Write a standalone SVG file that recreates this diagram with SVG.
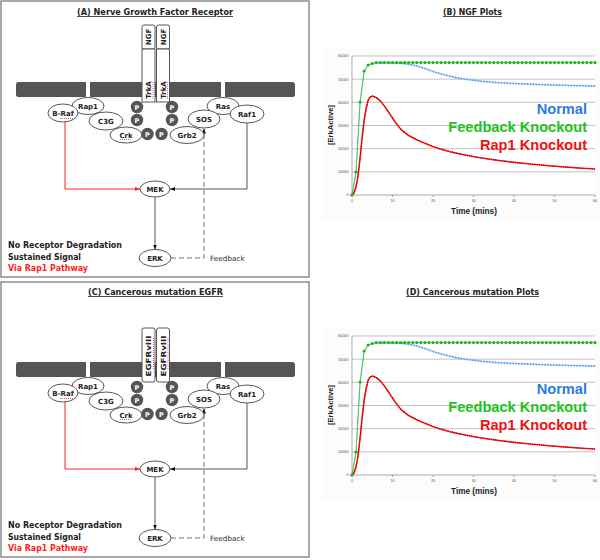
<svg xmlns="http://www.w3.org/2000/svg" width="600" height="560" viewBox="0 0 600 560">
<style>
.box{fill:none;stroke:#555;stroke-width:1}
.title{font-family:"DejaVu Sans",sans-serif;font-weight:bold;font-size:8px;fill:#222;text-anchor:middle;text-decoration:underline}
.mem{fill:#555}
.gap{fill:#fff}
.rec{fill:#fff;stroke:#444;stroke-width:0.9}
.rtxt{font-family:"DejaVu Sans",sans-serif;font-weight:bold;font-size:7px;fill:#222;text-anchor:middle}
.n ellipse{fill:#fff;stroke:#444;stroke-width:0.9}
.n text{font-family:"DejaVu Sans",sans-serif;font-weight:bold;font-size:7px;fill:#222;text-anchor:middle}
.p circle{fill:#555}
.p text{font-family:"DejaVu Sans",sans-serif;font-weight:bold;font-size:6.5px;fill:#fff;text-anchor:middle}
.sq{fill:none;stroke:#e33;stroke-width:0.8;stroke-dasharray:1 1}
.note{font-family:"DejaVu Sans",sans-serif;font-weight:bold;font-size:8px;fill:#222}
.fb{font-family:"DejaVu Sans",sans-serif;font-size:7.3px;fill:#333}
.blk{fill:none;stroke:#555;stroke-width:1}
.red{fill:none;stroke:#f22;stroke-width:1}
.dash{fill:none;stroke:#777;stroke-width:1;stroke-dasharray:5 3}
.grid{stroke:#9a9a9a;stroke-width:0.6}
.axis{stroke:#888;stroke-width:0.7}
.tick{font-family:"Liberation Sans",Arial,sans-serif;font-size:3.8px;fill:#555}
.axl{font-family:"Liberation Sans",Arial,sans-serif;font-weight:bold;fill:#222}
.leg{font-family:"Liberation Sans",Arial,sans-serif;font-weight:bold;font-size:14.6px;text-anchor:end}
</style>
<defs>
<marker id="ah" viewBox="0 0 10 10" refX="10" refY="5" markerWidth="5" markerHeight="5" orient="auto" markerUnits="userSpaceOnUse"><path d="M0,1 L10,5 L0,9 z" fill="#111"/></marker>
<marker id="ahr" viewBox="0 0 10 10" refX="10" refY="5" markerWidth="5" markerHeight="5" orient="auto" markerUnits="userSpaceOnUse"><path d="M0,1 L10,5 L0,9 z" fill="#f22"/></marker>
</defs>
<rect width="600" height="560" fill="#fff"/>

<!-- ================= Panel A ================= -->
<g id="panelA">
<rect class="box" x="1" y="1" width="308" height="276"/>
<text class="title" x="155" y="15" textLength="156" lengthAdjust="spacingAndGlyphs">(A) Nerve Growth Factor Receptor</text>
<rect class="mem" x="16" y="82" width="279" height="15" rx="2.5"/>
<rect class="gap" x="86" y="82" width="4" height="15"/>
<rect class="gap" x="221" y="82" width="4" height="15"/>
<g id="a-receptor">
<rect class="rec" x="142" y="25" width="13" height="24" rx="2"/>
<rect class="rec" x="142" y="49" width="13" height="53"/>
<rect class="rec" x="156.5" y="25" width="13" height="24" rx="2"/>
<rect class="rec" x="156.5" y="49" width="13" height="53"/>
<text class="rtxt" transform="translate(151,37) rotate(-90)">NGF</text>
<text class="rtxt" transform="translate(165.5,37) rotate(-90)">NGF</text>
<text class="rtxt" transform="translate(151,90) rotate(-90)">TrkA</text>
<text class="rtxt" transform="translate(165.5,90) rotate(-90)">TrkA</text>
<path class="sq" d="M153,82 V100 M167.5,82 V100"/>
</g>
<g id="a-connectors">
<path class="red" d="M65,122 V189 H140" marker-end="url(#ahr)"/>
<path class="blk" d="M247,123 V189 H170" marker-end="url(#ah)"/>
<path class="blk" d="M155,197 V249.5" marker-end="url(#ah)"/>
<path class="dash" d="M171,258 H204 V128.5" marker-end="url(#ah)"/>
</g>
<g id="a-rap1" class="n"><ellipse cx="88" cy="106" rx="16" ry="8.5"/><text x="88" y="108.5">Rap1</text></g>
<g id="a-braf" class="n"><ellipse cx="63" cy="113" rx="15" ry="9"/><text x="63" y="115.5">B-Raf</text><path class="sq" d="M60,118.5 H73"/></g>
<g id="a-c3g" class="n"><ellipse cx="106" cy="121" rx="17" ry="9"/><text x="106" y="123.5">C3G</text></g>
<g id="a-crk" class="n"><ellipse cx="126" cy="135" rx="16" ry="8"/><text x="126" y="137.5">Crk</text><path class="sq" d="M120,139.5 H132"/></g>
<g id="a-ras" class="n"><ellipse cx="223" cy="106" rx="16" ry="8.5"/><text x="223" y="108.5">Ras</text></g>
<g id="a-raf1" class="n"><ellipse cx="247" cy="114" rx="17" ry="9"/><text x="247" y="116.5">Raf1</text></g>
<g id="a-sos" class="n"><ellipse cx="204" cy="119" rx="16" ry="9"/><text x="204" y="121.5">SOS</text></g>
<g id="a-grb2" class="n"><ellipse cx="187" cy="135" rx="17" ry="8.5"/><text x="187" y="137.5">Grb2</text></g>
<g id="a-p" class="p">
<circle cx="137" cy="107" r="6.2"/><text x="137" y="109.5">P</text>
<circle cx="137" cy="120" r="6.2"/><text x="137" y="122.5">P</text>
<circle cx="172" cy="107" r="6.2"/><text x="172" y="109.5">P</text>
<circle cx="172" cy="120" r="6.2"/><text x="172" y="122.5">P</text>
<circle cx="147.5" cy="134" r="6.2"/><text x="147.5" y="136.5">P</text>
<circle cx="161.5" cy="134" r="6.2"/><text x="161.5" y="136.5">P</text>
</g>
<g id="a-mek" class="n"><ellipse cx="155" cy="189" rx="15" ry="8"/><text x="155" y="191.5">MEK</text></g>
<g id="a-erk" class="n"><ellipse cx="155" cy="258" rx="16" ry="8.5"/><text x="155" y="260.5">ERK</text></g>
<text class="fb" x="210" y="261">Feedback</text>
<text class="note" x="8" y="248" textLength="114" lengthAdjust="spacingAndGlyphs">No Receptor Degradation</text>
<text class="note" x="8" y="259.5" textLength="73" lengthAdjust="spacingAndGlyphs">Sustained Signal</text>
<text class="note" x="8" y="271" textLength="80" lengthAdjust="spacingAndGlyphs" style="fill:#f22">Via Rap1 Pathway</text>
</g>

<!-- ================= Panel C ================= -->
<g id="panelC">
<rect class="box" x="1" y="282" width="308" height="275"/>
<text class="title" x="155.5" y="295" textLength="135" lengthAdjust="spacingAndGlyphs">(C) Cancerous mutation EGFR</text>
<rect class="mem" x="16" y="362" width="279" height="15" rx="2.5"/>
<rect class="gap" x="86" y="362" width="4" height="15"/>
<rect class="gap" x="221" y="362" width="4" height="15"/>
<g id="c-receptor">
<rect class="rec" x="142" y="328" width="13" height="54" rx="2"/>
<rect class="rec" x="156.5" y="328" width="13" height="54" rx="2"/>
<text class="rtxt" transform="translate(151.3,356) rotate(-90)" textLength="41" lengthAdjust="spacingAndGlyphs">EGFRvIII</text>
<text class="rtxt" transform="translate(165.8,356) rotate(-90)" textLength="41" lengthAdjust="spacingAndGlyphs">EGFRvIII</text>
<path class="sq" d="M153.5,338 V370 M168,338 V370"/>
</g>
<g id="c-connectors">
<path class="red" d="M65,402 V469 H140" marker-end="url(#ahr)"/>
<path class="blk" d="M247,403 V469 H170" marker-end="url(#ah)"/>
<path class="blk" d="M155,477 V529.5" marker-end="url(#ah)"/>
<path class="dash" d="M171,538 H204 V408.5" marker-end="url(#ah)"/>
</g>
<g id="c-rap1" class="n"><ellipse cx="88" cy="386" rx="16" ry="8.5"/><text x="88" y="388.5">Rap1</text></g>
<g id="c-braf" class="n"><ellipse cx="63" cy="393" rx="15" ry="9"/><text x="63" y="395.5">B-Raf</text><path class="sq" d="M60,398.5 H73"/></g>
<g id="c-c3g" class="n"><ellipse cx="106" cy="401" rx="17" ry="9"/><text x="106" y="403.5">C3G</text></g>
<g id="c-crk" class="n"><ellipse cx="126" cy="415" rx="16" ry="8"/><text x="126" y="417.5">Crk</text><path class="sq" d="M120,419.5 H132"/></g>
<g id="c-ras" class="n"><ellipse cx="223" cy="386" rx="16" ry="8.5"/><text x="223" y="388.5">Ras</text></g>
<g id="c-raf1" class="n"><ellipse cx="247" cy="394" rx="17" ry="9"/><text x="247" y="396.5">Raf1</text></g>
<g id="c-sos" class="n"><ellipse cx="204" cy="399" rx="16" ry="9"/><text x="204" y="401.5">SOS</text></g>
<g id="c-grb2" class="n"><ellipse cx="187" cy="415" rx="17" ry="8.5"/><text x="187" y="417.5">Grb2</text></g>
<g id="c-p" class="p">
<circle cx="137" cy="387" r="6.2"/><text x="137" y="389.5">P</text>
<circle cx="137" cy="400" r="6.2"/><text x="137" y="402.5">P</text>
<circle cx="172" cy="387" r="6.2"/><text x="172" y="389.5">P</text>
<circle cx="172" cy="400" r="6.2"/><text x="172" y="402.5">P</text>
<circle cx="147.5" cy="414" r="6.2"/><text x="147.5" y="416.5">P</text>
<circle cx="161.5" cy="414" r="6.2"/><text x="161.5" y="416.5">P</text>
</g>
<g id="c-mek" class="n"><ellipse cx="155" cy="469" rx="15" ry="8"/><text x="155" y="471.5">MEK</text></g>
<g id="c-erk" class="n"><ellipse cx="155" cy="538" rx="16" ry="8.5"/><text x="155" y="540.5">ERK</text></g>
<text class="fb" x="210" y="541">Feedback</text>
<text class="note" x="8" y="528" textLength="114" lengthAdjust="spacingAndGlyphs">No Receptor Degradation</text>
<text class="note" x="8" y="539.5" textLength="73" lengthAdjust="spacingAndGlyphs">Sustained Signal</text>
<text class="note" x="8" y="551" textLength="80" lengthAdjust="spacingAndGlyphs" style="fill:#f22">Via Rap1 Pathway</text>
</g>

<!-- ================= Chart titles ================= -->
<text class="title" x="472.5" y="15" textLength="59" lengthAdjust="spacingAndGlyphs">(B) NGF Plots</text>
<text class="title" x="472.5" y="295" textLength="133" lengthAdjust="spacingAndGlyphs">(D) Cancerous mutation Plots</text>

<!-- ================= Chart B ================= -->
<g id="chartB">
<rect x="322" y="48" width="278" height="172" fill="#fcfcfc"/>
<rect x="352" y="56" width="243" height="139" fill="#fff"/>
<g class="grid">
<line x1="352" y1="56" x2="595" y2="56"/><line x1="352" y1="79.2" x2="595" y2="79.2"/><line x1="352" y1="102.3" x2="595" y2="102.3"/><line x1="352" y1="125.5" x2="595" y2="125.5"/><line x1="352" y1="148.7" x2="595" y2="148.7"/><line x1="352" y1="171.8" x2="595" y2="171.8"/>
</g>
<g class="axis">
<line x1="352" y1="56" x2="352" y2="195"/><line x1="350" y1="195" x2="595" y2="195"/>
<path d="M392.5,195v2M433,195v2M473.5,195v2M514,195v2M554.5,195v2M595,195v2M352,195v2" fill="none"/>
</g>
<g class="tick" text-anchor="end">
<text x="348.5" y="57.3">60000</text><text x="348.5" y="80.5">50000</text><text x="348.5" y="103.6">40000</text><text x="348.5" y="126.8">30000</text><text x="348.5" y="150">20000</text><text x="348.5" y="173.1">10000</text><text x="348.5" y="196.3">0</text>
</g>
<g class="tick" text-anchor="middle">
<text x="352" y="201.5">0</text><text x="392.5" y="201.5">10</text><text x="433" y="201.5">20</text><text x="473.5" y="201.5">30</text><text x="514" y="201.5">40</text><text x="554.5" y="201.5">50</text><text x="595" y="201.5">60</text>
</g>
<text class="axl" x="474" y="214" font-size="8.2" text-anchor="middle">Time (mins)</text>
<text class="axl" font-size="7.6" text-anchor="middle" transform="translate(333,125) rotate(-90)">[ErkActive]</text>
<polyline fill="none" stroke="#8cc2ff" stroke-width="0.8" points="352,195 356,172 360.1,102 364.2,71 368.2,65 372.3,63.5 376.3,62.8 384.4,62.8 392.5,62.8 400.6,63.2 408.7,64.2 416.8,66 424.9,68.5 433,71.5 441.1,74 449.2,76 457.3,77.8 465.4,79.2 473.5,80.3 481.6,81.2 489.7,82 497.8,82.6 514,83.5 530.2,84.2 546.4,84.8 562.6,85.3 578.8,85.7 595,86"/>
<polyline fill="none" stroke="#5aa2f8" stroke-width="2" stroke-linecap="round" stroke-dasharray="0 2.9" points="376.3,62.8 384.4,62.8 392.5,62.8 400.6,63.2 408.7,64.2 416.8,66 424.9,68.5 433,71.5 441.1,74 449.2,76 457.3,77.8 465.4,79.2 473.5,80.3 481.6,81.2 489.7,82 497.8,82.6 514,83.5 530.2,84.2 546.4,84.8 562.6,85.3 578.8,85.7 595,86"/>
<polyline fill="none" stroke="#f01414" stroke-width="1.2" stroke-linejoin="round" points="352,195 354,193 356,187 358,176 360.1,158 362.1,138 364.2,120 366.2,108 368.2,100 370.2,97 372.3,96 376.3,97.5 380.4,101 384.4,106 388.5,112 392.5,118 396.6,124 400.6,129 404.7,132.5 408.7,135.5 416.8,139.8 424.9,143.3 433,146.5 441.1,149.2 449.2,151.5 457.3,153.4 465.4,155 473.5,156.6 481.6,158 497.8,160.3 514,162.3 530.2,164 546.4,165.5 562.6,166.8 578.8,168 595,169"/>
<polyline fill="none" stroke="#e80000" stroke-width="1.8" stroke-linecap="round" stroke-dasharray="0 2.2" points="352,195 354,193 356,187 358,176 360.1,158 362.1,138 364.2,120 366.2,108 368.2,100 370.2,97 372.3,96 376.3,97.5 380.4,101 384.4,106 388.5,112 392.5,118 396.6,124 400.6,129 404.7,132.5 408.7,135.5 416.8,139.8 424.9,143.3 433,146.5 441.1,149.2 449.2,151.5 457.3,153.4 465.4,155 473.5,156.6 481.6,158 497.8,160.3 514,162.3 530.2,164 546.4,165.5 562.6,166.8 578.8,168 595,169"/>
<polyline fill="none" stroke="#3cc43c" stroke-width="0.9" points="352,195 356,172 360.1,102 364.2,71 368.2,65 372.3,63.5 376.3,62.6 595,62.6"/>
<g fill="#22b422"><circle cx="352" cy="195" r="1.6"/><circle cx="356" cy="172" r="1.6"/><circle cx="360.1" cy="102" r="1.6"/><circle cx="364.2" cy="71" r="1.6"/><circle cx="368.2" cy="65" r="1.6"/><circle cx="372.3" cy="63.5" r="1.6"/></g>
<line x1="376.3" y1="62.6" x2="595.1" y2="62.6" stroke="#22b422" stroke-width="3.2" stroke-linecap="round" stroke-dasharray="0 4.05"/>
<text class="leg" x="587" y="114" fill="#2a7ae2">Normal</text>
<text class="leg" x="587" y="132" fill="#22c222">Feedback Knockout</text>
<text class="leg" x="587" y="150" fill="#f21010">Rap1 Knockout</text>
</g>

<!-- ================= Chart D ================= -->
<g id="chartD" transform="translate(0,280)">
<rect x="322" y="48" width="278" height="172" fill="#fcfcfc"/>
<rect x="352" y="56" width="243" height="139" fill="#fff"/>
<g class="grid">
<line x1="352" y1="56" x2="595" y2="56"/><line x1="352" y1="79.2" x2="595" y2="79.2"/><line x1="352" y1="102.3" x2="595" y2="102.3"/><line x1="352" y1="125.5" x2="595" y2="125.5"/><line x1="352" y1="148.7" x2="595" y2="148.7"/><line x1="352" y1="171.8" x2="595" y2="171.8"/>
</g>
<g class="axis">
<line x1="352" y1="56" x2="352" y2="195"/><line x1="350" y1="195" x2="595" y2="195"/>
<path d="M392.5,195v2M433,195v2M473.5,195v2M514,195v2M554.5,195v2M595,195v2M352,195v2" fill="none"/>
</g>
<g class="tick" text-anchor="end">
<text x="348.5" y="57.3">60000</text><text x="348.5" y="80.5">50000</text><text x="348.5" y="103.6">40000</text><text x="348.5" y="126.8">30000</text><text x="348.5" y="150">20000</text><text x="348.5" y="173.1">10000</text><text x="348.5" y="196.3">0</text>
</g>
<g class="tick" text-anchor="middle">
<text x="352" y="201.5">0</text><text x="392.5" y="201.5">10</text><text x="433" y="201.5">20</text><text x="473.5" y="201.5">30</text><text x="514" y="201.5">40</text><text x="554.5" y="201.5">50</text><text x="595" y="201.5">60</text>
</g>
<text class="axl" x="474" y="214" font-size="8.2" text-anchor="middle">Time (mins)</text>
<text class="axl" font-size="7.6" text-anchor="middle" transform="translate(333,125) rotate(-90)">[ErkActive]</text>
<polyline fill="none" stroke="#8cc2ff" stroke-width="0.8" points="352,195 356,172 360.1,102 364.2,71 368.2,65 372.3,63.5 376.3,62.8 384.4,62.8 392.5,62.8 400.6,63.2 408.7,64.2 416.8,66 424.9,68.5 433,71.5 441.1,74 449.2,76 457.3,77.8 465.4,79.2 473.5,80.3 481.6,81.2 489.7,82 497.8,82.6 514,83.5 530.2,84.2 546.4,84.8 562.6,85.3 578.8,85.7 595,86"/>
<polyline fill="none" stroke="#5aa2f8" stroke-width="2" stroke-linecap="round" stroke-dasharray="0 2.9" points="376.3,62.8 384.4,62.8 392.5,62.8 400.6,63.2 408.7,64.2 416.8,66 424.9,68.5 433,71.5 441.1,74 449.2,76 457.3,77.8 465.4,79.2 473.5,80.3 481.6,81.2 489.7,82 497.8,82.6 514,83.5 530.2,84.2 546.4,84.8 562.6,85.3 578.8,85.7 595,86"/>
<polyline fill="none" stroke="#f01414" stroke-width="1.2" stroke-linejoin="round" points="352,195 354,193 356,187 358,176 360.1,158 362.1,138 364.2,120 366.2,108 368.2,100 370.2,97 372.3,96 376.3,97.5 380.4,101 384.4,106 388.5,112 392.5,118 396.6,124 400.6,129 404.7,132.5 408.7,135.5 416.8,139.8 424.9,143.3 433,146.5 441.1,149.2 449.2,151.5 457.3,153.4 465.4,155 473.5,156.6 481.6,158 497.8,160.3 514,162.3 530.2,164 546.4,165.5 562.6,166.8 578.8,168 595,169"/>
<polyline fill="none" stroke="#e80000" stroke-width="1.8" stroke-linecap="round" stroke-dasharray="0 2.2" points="352,195 354,193 356,187 358,176 360.1,158 362.1,138 364.2,120 366.2,108 368.2,100 370.2,97 372.3,96 376.3,97.5 380.4,101 384.4,106 388.5,112 392.5,118 396.6,124 400.6,129 404.7,132.5 408.7,135.5 416.8,139.8 424.9,143.3 433,146.5 441.1,149.2 449.2,151.5 457.3,153.4 465.4,155 473.5,156.6 481.6,158 497.8,160.3 514,162.3 530.2,164 546.4,165.5 562.6,166.8 578.8,168 595,169"/>
<polyline fill="none" stroke="#3cc43c" stroke-width="0.9" points="352,195 356,172 360.1,102 364.2,71 368.2,65 372.3,63.5 376.3,62.6 595,62.6"/>
<g fill="#22b422"><circle cx="352" cy="195" r="1.6"/><circle cx="356" cy="172" r="1.6"/><circle cx="360.1" cy="102" r="1.6"/><circle cx="364.2" cy="71" r="1.6"/><circle cx="368.2" cy="65" r="1.6"/><circle cx="372.3" cy="63.5" r="1.6"/></g>
<line x1="376.3" y1="62.6" x2="595.1" y2="62.6" stroke="#22b422" stroke-width="3.2" stroke-linecap="round" stroke-dasharray="0 4.05"/>
<text class="leg" x="587" y="114" fill="#2a7ae2">Normal</text>
<text class="leg" x="587" y="132" fill="#22c222">Feedback Knockout</text>
<text class="leg" x="587" y="150" fill="#f21010">Rap1 Knockout</text>
</g>
</svg>
